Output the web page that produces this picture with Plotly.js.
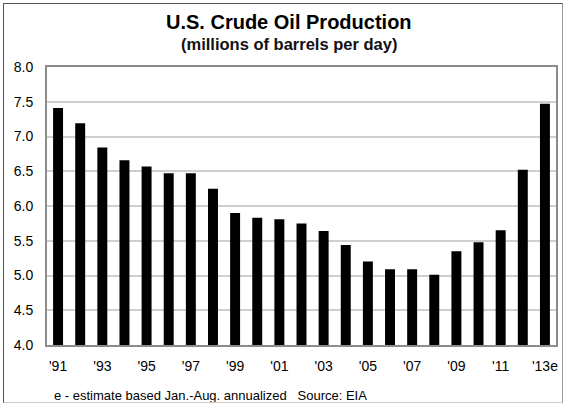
<!DOCTYPE html>
<html>
<head>
<meta charset="utf-8">
<script src="https://cdn.plot.ly/plotly-3.0.1.min.js"></script>
<style>
html,body{margin:0;padding:0;background:#fff;}
#wrap{position:relative;width:566px;height:406px;}
#chart{width:566px;height:406px;}
#frame{position:absolute;left:3px;top:3px;width:560px;height:400px;border:1px solid #555;border-right-color:#999;border-bottom-color:#ccc;pointer-events:none;box-sizing:border-box;}
</style>
</head>
<body>
<div id="wrap"><div id="chart"></div><div id="frame"></div></div>
<script>
const years = ["'91","'92","'93","'94","'95","'96","'97","'98","'99","'00","'01","'02","'03","'04","'05","'06","'07","'08","'09","'10","'11","'12","'13e"];
const production = [7.41,7.19,6.84,6.66,6.57,6.47,6.47,6.25,5.90,5.83,5.81,5.75,5.64,5.44,5.20,5.09,5.09,5.01,5.35,5.48,5.65,6.52,7.47];
const tickLabels = ["'91","'93","'95","'97","'99","'01","'03","'05","'07","'09","'11","'13e"];
const yTicks = [4.0,4.5,5.0,5.5,6.0,6.5,7.0,7.5,8.0];

const trace = {
  type: 'bar',
  x: years,
  y: production,
  marker: {color: '#000000'},
  hoverinfo: 'x+y'
};

const layout = {
  width: 566, height: 406,
  margin: {l: 47, r: 10, t: 67, b: 61},
  paper_bgcolor: '#ffffff',
  plot_bgcolor: '#ffffff',
  bargap: 0.55,
  showlegend: false,
  font: {family: 'Liberation Sans, Arial, sans-serif', color: '#000'},
  xaxis: {
    type: 'category',
    tickmode: 'array',
    tickvals: tickLabels,
    ticktext: tickLabels,
    tickfont: {size: 14, color: '#000'},
    showgrid: false,
    showline: true, linecolor: '#8c8c8c', linewidth: 2, mirror: true,
    ticks: '', ticklabelstandoff: 7, zeroline: false
  },
  yaxis: {
    range: [4, 8],
    tickmode: 'array',
    tickvals: yTicks,
    ticktext: yTicks.map(v => v.toFixed(1)),
    tickfont: {size: 14, color: '#000'},
    showgrid: true, gridcolor: '#cfcfcf', gridwidth: 2,
    showline: true, linecolor: '#8c8c8c', linewidth: 2, mirror: true,
    ticks: '', ticklabelstandoff: 9, zeroline: false
  },
  annotations: [
    {text: '<b>U.S. Crude Oil Production</b>', xref: 'paper', yref: 'paper', x: 0.475, y: 1.162,
     xanchor: 'center', yanchor: 'middle', showarrow: false, font: {size: 20, color: '#000'}},
    {text: '<b>(millions of barrels per day)</b>', xref: 'paper', yref: 'paper', x: 0.475, y: 1.083,
     xanchor: 'center', yanchor: 'middle', showarrow: false, font: {size: 16.5, color: '#111'}},
    {text: 'e - estimate based Jan.-Aug. annualized   Source: EIA', xref: 'paper', yref: 'paper', x: 0.01, y: -0.18,
     xanchor: 'left', yanchor: 'middle', showarrow: false, font: {size: 13, color: '#000'}}
  ]
};

Plotly.newPlot('chart', [trace], layout, {displayModeBar: false, staticPlot: true});
</script>
</body>
</html>
